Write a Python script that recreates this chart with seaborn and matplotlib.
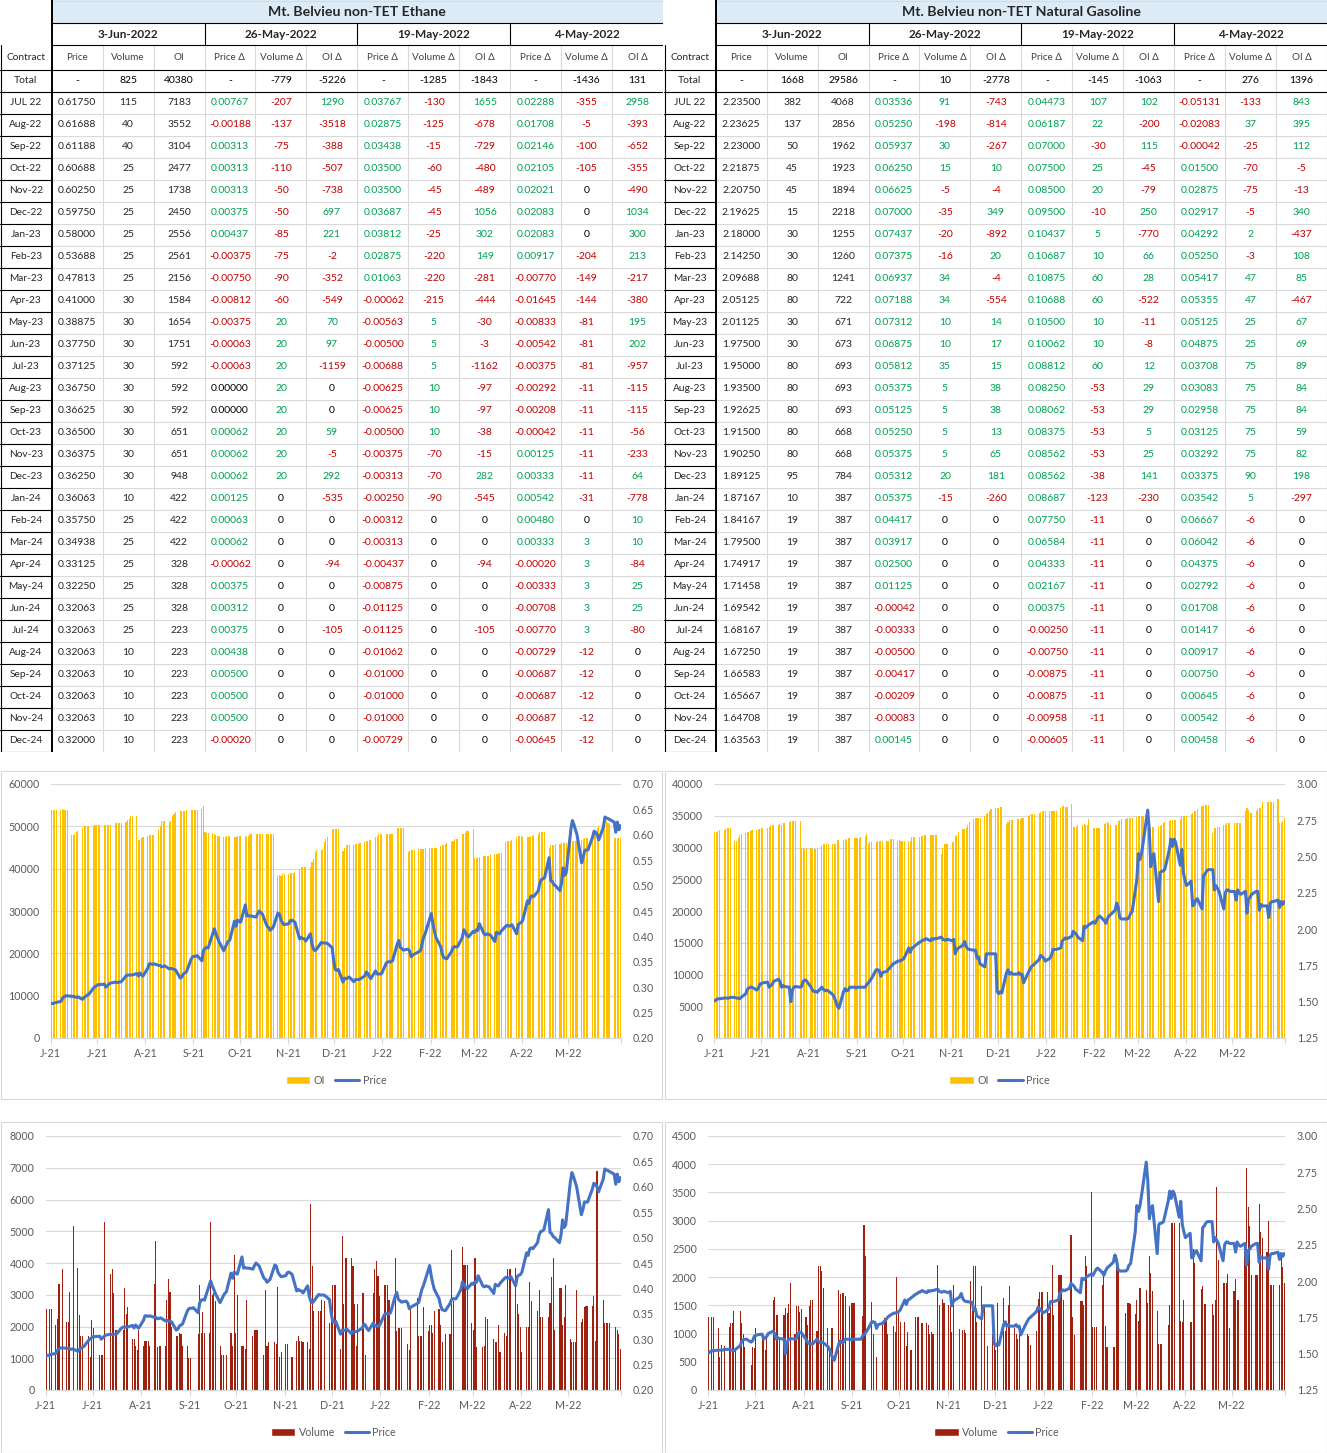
import numpy as np
import pandas as pd
import matplotlib
matplotlib.use("Agg")
import matplotlib.pyplot as plt
import matplotlib.dates as mdates
from matplotlib.patches import Rectangle, Patch
from matplotlib.lines import Line2D
import seaborn as sns

# ---------------- TABLE DATA ----------------
contracts = ["JUL 22", "Aug-22", "Sep-22", "Oct-22", "Nov-22", "Dec-22", "Jan-23", "Feb-23", "Mar-23", "Apr-23",
             "May-23", "Jun-23", "Jul-23", "Aug-23", "Sep-23", "Oct-23", "Nov-23", "Dec-23", "Jan-24", "Feb-24",
             "Mar-24", "Apr-24", "May-24", "Jun-24", "Jul-24", "Aug-24", "Sep-24", "Oct-24", "Nov-24", "Dec-24"]
report_dates = ["3-Jun-2022", "26-May-2022", "19-May-2022", "4-May-2022"]
col_headers = ["Price", "Volume", "OI", "Price \u0394", "Volume \u0394", "OI \u0394",
               "Price \u0394", "Volume \u0394", "OI \u0394", "Price \u0394", "Volume \u0394", "OI \u0394"]

eth_price = [0.61750, 0.61688, 0.61188, 0.60688, 0.60250, 0.59750, 0.58000, 0.53688, 0.47813, 0.41000,
             0.38875, 0.37750, 0.37125, 0.36750, 0.36625, 0.36500, 0.36375, 0.36250, 0.36063, 0.35750,
             0.34938, 0.33125, 0.32250, 0.32063, 0.32063, 0.32063, 0.32063, 0.32063, 0.32063, 0.32000]
eth_volume = [115, 40, 40, 25, 25, 25, 25, 25, 25, 30, 30, 30, 30, 30, 30, 30, 30, 30, 10, 25,
              25, 25, 25, 25, 25, 10, 10, 10, 10, 10]
eth_oi = [7183, 3552, 3104, 2477, 1738, 2450, 2556, 2561, 2156, 1584, 1654, 1751, 592, 592, 592, 651, 651, 948,
          422, 422, 422, 328, 328, 328, 223, 223, 223, 223, 223, 223]
eth_dp1 = [0.00767, -0.00188, 0.00313, 0.00313, 0.00313, 0.00375, 0.00437, -0.00375, -0.00750, -0.00812,
           -0.00375, -0.00063, -0.00063, 0.00000, 0.00000, 0.00062, 0.00062, 0.00062, 0.00125, 0.00063,
           0.00062, -0.00062, 0.00375, 0.00312, 0.00375, 0.00438, 0.00500, 0.00500, 0.00500, -0.00020]
eth_dv1 = [-207, -137, -75, -110, -50, -50, -85, -75, -90, -60, 20, 20, 20, 20, 20, 20, 20, 20,
           0, 0, 0, 0, 0, 0, 0, 0, 0, 0, 0, 0]
eth_doi1 = [1290, -3518, -388, -507, -738, 697, 221, -2, -352, -549, 70, 97, -1159, 0, 0, 59, -5, 292, -535,
            0, 0, -94, 0, 0, -105, 0, 0, 0, 0, 0]
eth_dp2 = [0.03767, 0.02875, 0.03438, 0.03500, 0.03500, 0.03687, 0.03812, 0.02875, 0.01063, -0.00062,
           -0.00563, -0.00500, -0.00688, -0.00625, -0.00625, -0.00500, -0.00375, -0.00313, -0.00250, -0.00312,
           -0.00313, -0.00437, -0.00875, -0.01125, -0.01125, -0.01062, -0.01000, -0.01000, -0.01000, -0.00729]
eth_dv2 = [-130, -125, -15, -60, -45, -45, -25, -220, -220, -215, 5, 5, 5, 10, 10, 10, -70, -70, -90,
           0, 0, 0, 0, 0, 0, 0, 0, 0, 0, 0]
eth_doi2 = [1655, -678, -729, -480, -489, 1056, 302, 149, -281, -444, -30, -3, -1162, -97, -97, -38, -15, 282,
            -545, 0, 0, -94, 0, 0, -105, 0, 0, 0, 0, 0]
eth_dp3 = [0.02288, 0.01708, 0.02146, 0.02105, 0.02021, 0.02083, 0.02083, 0.00917, -0.00770, -0.01645,
           -0.00833, -0.00542, -0.00375, -0.00292, -0.00208, -0.00042, 0.00125, 0.00333, 0.00542, 0.00480,
           0.00333, -0.00020, -0.00333, -0.00708, -0.00770, -0.00729, -0.00687, -0.00687, -0.00687, -0.00645]
eth_dv3 = [-355, -5, -100, -105, 0, 0, 0, -204, -149, -144, -81, -81, -81, -11, -11, -11, -11, -11, -31,
           0, 3, 3, 3, 3, 3, -12, -12, -12, -12, -12]
eth_doi3 = [2958, -393, -652, -355, -490, 1034, 300, 213, -217, -380, 195, 202, -957, -115, -115, -56, -233, 64,
            -778, 10, 10, -84, 25, 25, -80, 0, 0, 0, 0, 0]
eth_totals = ["-", 825, 40380, "-", -779, -5226, "-", -1285, -1843, "-", -1436, 131]

ng_price = [2.23500, 2.23625, 2.23000, 2.21875, 2.20750, 2.19625, 2.18000, 2.14250, 2.09688, 2.05125,
            2.01125, 1.97500, 1.95000, 1.93500, 1.92625, 1.91500, 1.90250, 1.89125, 1.87167, 1.84167,
            1.79500, 1.74917, 1.71458, 1.69542, 1.68167, 1.67250, 1.66583, 1.65667, 1.64708, 1.63563]
ng_volume = [382, 137, 50, 45, 45, 15, 30, 30, 80, 80, 30, 30, 80, 80, 80, 80, 80, 95, 10,
             19, 19, 19, 19, 19, 19, 19, 19, 19, 19, 19]
ng_oi = [4068, 2856, 1962, 1923, 1894, 2218, 1255, 1260, 1241, 722, 671, 673, 693, 693, 693, 668, 668, 784,
         387, 387, 387, 387, 387, 387, 387, 387, 387, 387, 387, 387]
ng_dp1 = [0.03536, 0.05250, 0.05937, 0.06250, 0.06625, 0.07000, 0.07437, 0.07375, 0.06937, 0.07188,
          0.07312, 0.06875, 0.05812, 0.05375, 0.05125, 0.05250, 0.05375, 0.05312, 0.05375, 0.04417,
          0.03917, 0.02500, 0.01125, -0.00042, -0.00333, -0.00500, -0.00417, -0.00209, -0.00083, 0.00145]
ng_dv1 = [91, -198, 30, 15, -5, -35, -20, -16, 34, 34, 10, 10, 35, 5, 5, 5, 5, 20, -15,
          0, 0, 0, 0, 0, 0, 0, 0, 0, 0, 0]
ng_doi1 = [-743, -814, -267, 10, -4, 349, -892, 20, -4, -554, 14, 17, 15, 38, 38, 13, 65, 181, -260,
           0, 0, 0, 0, 0, 0, 0, 0, 0, 0, 0]
ng_dp2 = [0.04473, 0.06187, 0.07000, 0.07500, 0.08500, 0.09500, 0.10437, 0.10687, 0.10875, 0.10688,
          0.10500, 0.10062, 0.08812, 0.08250, 0.08062, 0.08375, 0.08562, 0.08562, 0.08687, 0.07750,
          0.06584, 0.04333, 0.02167, 0.00375, -0.00250, -0.00750, -0.00875, -0.00875, -0.00958, -0.00605]
ng_dv2 = [107, 22, -30, 25, 20, -10, 5, 10, 60, 60, 10, 10, 60, -53, -53, -53, -53, -38, -123,
          -11, -11, -11, -11, -11, -11, -11, -11, -11, -11, -11]
ng_doi2 = [102, -200, 115, -45, -79, 250, -770, 66, 28, -522, -11, -8, 12, 29, 29, 5, 25, 141, -230,
           0, 0, 0, 0, 0, 0, 0, 0, 0, 0, 0]
ng_dp3 = [-0.05131, -0.02083, -0.00042, 0.01500, 0.02875, 0.02917, 0.04292, 0.05250, 0.05417, 0.05355,
          0.05125, 0.04875, 0.03708, 0.03083, 0.02958, 0.03125, 0.03292, 0.03375, 0.03542, 0.06667,
          0.06042, 0.04375, 0.02792, 0.01708, 0.01417, 0.00917, 0.00750, 0.00645, 0.00542, 0.00458]
ng_dv3 = [-133, 37, -25, -70, -75, -5, 2, -3, 47, 47, 25, 25, 75, 75, 75, 75, 75, 90, 5,
          -6, -6, -6, -6, -6, -6, -6, -6, -6, -6, -6]
ng_doi3 = [843, 395, 112, -5, -13, 340, -437, 108, 85, -467, 67, 69, 89, 84, 84, 59, 82, 198, -297,
           0, 0, 0, 0, 0, 0, 0, 0, 0, 0, 0]
ng_totals = ["-", 1668, 29586, "-", 10, -2778, "-", -145, -1063, "-", 276, 1396]

# ---------------- DAILY CHART DATA (business days 1-Jun-2021 .. 3-Jun-2022) ----------------
eth_oi_daily = [
    53800, 53800, 53900, 53800, 53900, 54000, 53900, 53900, 53900, 48000, 48000, 48200, 48600, 49000,
    49500, 50000, 50000, 50000, 50000, 50100, 50300, 50300,
    50200, 50200, 50300, 50300, 50300, 50200, 50200, 50800, 50800, 50800, 50800, 50900,
    51000, 51500, 51800, 52500, 52500, 52500, 46700, 46800, 47200, 47500,
    47800, 48000, 48000, 48000, 48000, 49200, 50000, 51300, 51300, 51200, 51000, 51300, 52500, 53000, 53500,
    53600, 53700, 53700, 53700, 53800, 53800, 53800,
    53800, 53800, 53800, 54000, 54700, 48600, 48500, 48500, 48500, 48300, 48000, 47600, 47600,
    47500, 47500, 47700, 47700, 47700, 47400, 47500, 47600, 47600,
    47600, 47600, 47500, 47600, 48200, 48200, 48200, 48200, 48200, 48200, 48200,
    48200, 48200, 48200, 48100, 48200, 38200, 38500, 38300, 38700, 38800,
    38800, 38900, 39000, 39000, 39200, 40000, 40300, 40500, 40500, 40500, 40500, 41500, 42400, 44000, 44500,
    44500, 44500, 46300, 47000, 47500, 49300, 49300,
    49300, 49300, 49400, 44200, 45000, 45600, 45600, 45600, 45700, 45800, 45800, 45900, 46000,
    46300, 46600, 46600, 46700, 46700, 47500, 47800, 48200, 48200, 48200,
    48200, 48200, 48300, 48200, 48300, 49600, 49700, 49700, 49700, 49700, 44000, 44200, 44300, 44500, 44500,
    44600, 44600, 44700, 44700, 44800, 44800,
    44800, 44800, 44800, 45000, 45300, 45500, 45700, 45900, 46000, 46200, 46500, 47000, 47000, 47000,
    48300, 48300, 48500, 48900, 49000, 49400,
    42500, 42600, 42600, 42700, 42900, 43000, 43000, 43100, 43300, 43500, 43500, 43500, 43700, 43800,
    46400, 46500, 46600, 46600, 46700, 47500, 47700, 47600, 47600,
    47500, 47500, 47500, 47600, 47700, 48000, 48300, 48600, 48700, 48700, 48700,
    45000, 45500, 45600, 45700, 45800, 45900, 46000, 46000, 46100, 46100,
    46200, 46500, 46600, 46600, 46600, 46700, 47000, 47200, 47300, 47300, 48000, 48500, 49000, 49500, 50000,
    51300, 51300, 51200, 50800, 50500, 47300, 47300,
    47300, 47300, 47300]

eth_price_daily = [
    0.268, 0.268, 0.269, 0.270, 0.272, 0.278, 0.281, 0.283, 0.283, 0.282, 0.282, 0.281, 0.280, 0.281,
    0.276, 0.280, 0.282, 0.284, 0.286, 0.298, 0.301, 0.303,
    0.305, 0.305, 0.306, 0.300, 0.303, 0.306, 0.308, 0.310, 0.309, 0.310, 0.310, 0.311,
    0.322, 0.324, 0.324, 0.324, 0.324, 0.327, 0.322, 0.328, 0.324, 0.322,
    0.337, 0.346, 0.346, 0.345, 0.346, 0.343, 0.343, 0.340, 0.341, 0.342, 0.336, 0.337, 0.336, 0.335, 0.334,
    0.318, 0.320, 0.326, 0.328, 0.330, 0.355, 0.360,
    0.361, 0.361, 0.362, 0.352, 0.372, 0.377, 0.378, 0.377, 0.405, 0.415, 0.405, 0.398, 0.390,
    0.372, 0.378, 0.385, 0.390, 0.393, 0.430, 0.420, 0.432, 0.430,
    0.428, 0.462, 0.440, 0.441, 0.440, 0.440, 0.438, 0.445, 0.450, 0.447, 0.444,
    0.420, 0.418, 0.412, 0.415, 0.418, 0.446, 0.444, 0.432, 0.427, 0.423,
    0.425, 0.431, 0.432, 0.430, 0.428, 0.395, 0.398, 0.396, 0.395, 0.391, 0.405, 0.385, 0.375, 0.372, 0.375,
    0.388, 0.387, 0.387, 0.387, 0.386, 0.378, 0.352,
    0.335, 0.333, 0.335, 0.310, 0.318, 0.317, 0.318, 0.320, 0.311, 0.315, 0.315, 0.315, 0.316,
    0.322, 0.330, 0.327, 0.321, 0.317, 0.332, 0.326, 0.326, 0.326, 0.327,
    0.348, 0.350, 0.350, 0.350, 0.352, 0.385, 0.392, 0.378, 0.376, 0.373, 0.375, 0.371, 0.360, 0.363, 0.365,
    0.370, 0.372, 0.385, 0.398, 0.405, 0.435,
    0.445, 0.425, 0.410, 0.398, 0.380, 0.366, 0.358, 0.357, 0.356, 0.370, 0.378, 0.380, 0.379, 0.380,
    0.398, 0.413, 0.408, 0.402, 0.399, 0.410,
    0.408, 0.413, 0.412, 0.425, 0.405, 0.403, 0.405, 0.404, 0.403, 0.390, 0.408, 0.406, 0.405, 0.410,
    0.420, 0.422, 0.420, 0.421, 0.423, 0.405, 0.423, 0.426, 0.427,
    0.432, 0.470, 0.465, 0.478, 0.480, 0.478, 0.490, 0.505, 0.512, 0.513, 0.515,
    0.555, 0.510, 0.508, 0.502, 0.500, 0.490, 0.505, 0.535, 0.520, 0.525,
    0.610, 0.628, 0.620, 0.610, 0.600, 0.545, 0.555, 0.570, 0.570, 0.570, 0.595, 0.607, 0.605, 0.600, 0.590,
    0.615, 0.635, 0.633, 0.632, 0.630, 0.625, 0.605,
    0.625, 0.610, 0.618]

eth_vol_daily = [
    2550, 0, 2550, 2550, 2050, 2250, 3350, 0, 3800, 2150, 2150, 3100, 0, 5150,
    3850, 2350, 1700, 1700, 0, 1700, 1050, 2200,
    1950, 0, 1100, 1100, 1100, 5300, 0, 3650, 3800, 3050, 1900, 1900,
    0, 1900, 3200, 2400, 2600, 1600, 1600, 1400, 1250, 1900,
    1400, 1550, 1550, 1550, 1400, 3350, 4700, 1350, 1400, 1400, 1400, 2850, 3500, 3100, 2000,
    1700, 1700, 1800, 1750, 1400, 1400, 1000,
    1000, 0, 0, 1750, 3300, 1800, 2450, 1800, 1800, 5300, 3000, 3050, 2800,
    1400, 1100, 1100, 0, 1100, 1800, 1400, 4250, 1800,
    3000, 1400, 1400, 1300, 2850, 0, 1700, 1900, 1900, 1900, 0,
    1100, 3150, 1400, 1500, 0, 1500, 1450, 3250, 1050, 1200,
    1450, 1450, 0, 0, 1050, 1550, 1700, 1550, 1550, 1500, 1500, 1300, 5850, 3900, 2500,
    2500, 2500, 2850, 0, 2800, 2100, 2250,
    3300, 3300, 3300, 1300, 4850, 2700, 4150, 4150, 4150, 3900, 2700, 1400, 2700,
    3050, 3050, 1100, 0, 0, 3050, 3800, 4050, 3600, 2950,
    3300, 3300, 3300, 2850, 0, 4150, 1850, 1950, 1950, 1950, 0, 1450, 1250, 2600, 0,
    2900, 1700, 1700, 1700, 2600, 1850,
    2050, 2050, 1800, 2500, 2550, 2050, 1500, 0, 1750, 1750, 4400, 2800, 0, 0,
    0, 4500, 3950, 3950, 3950, 2100,
    1900, 4150, 1350, 0, 1350, 1400, 2300, 2250, 0, 1600, 1500, 1500, 2050, 1200,
    1800, 1700, 3800, 3800, 3800, 3850, 2700, 2400, 2000,
    1200, 2000, 2000, 3400, 2800, 0, 2500, 3150, 2300, 2300, 0,
    2300, 2750, 3550, 4150, 1900, 3200, 3200, 2050, 2300, 3300,
    1600, 1500, 1500, 1500, 3150, 2150, 2250, 2600, 2650, 2650, 2650, 2950, 1550, 6900, 0,
    2850, 2100, 2100, 2100, 2100, 0, 2000,
    1900, 1750, 1300]

ng_oi_daily = [
    32500, 32500, 32600, 32700, 32800, 32900, 33000, 33000, 33000, 31000, 31000, 31500, 32000, 32200,
    32300, 32400, 32500, 32600, 32700, 32800, 32900, 32900,
    33000, 33000, 33100, 33200, 33500, 33500, 33600, 33600, 33700, 33600, 33800, 33900,
    34000, 34100, 34100, 34100, 34100, 34100, 29900, 29900, 29800, 29900,
    29900, 29800, 29700, 29800, 29700, 30200, 30600, 30600, 30600, 30600, 30600, 30600, 30600, 31200, 31200,
    31200, 31300, 31200, 31500, 31500, 31500, 31500,
    31500, 31500, 31600, 31800, 32200, 30500, 30800, 30900, 30900, 31000, 31000, 31100, 31100,
    31000, 31000, 31300, 31300, 31300, 31100, 31200, 31100, 31100,
    31100, 31100, 31100, 31600, 31600, 31700, 31700, 31800, 31800, 31900, 31900,
    31900, 31900, 31900, 31900, 31900, 29000, 30000, 30500, 30500, 30600,
    30800, 30800, 31800, 32000, 32500, 32900, 32900, 33000, 33500, 34000, 34500, 34700, 34700, 34700, 34700,
    35000, 35200, 35500, 35700, 36000, 36200, 36200,
    36200, 36300, 36300, 33700, 34000, 34300, 34400, 34400, 34500, 34500, 34500, 34600, 34700,
    35000, 35100, 35200, 35300, 35300, 35500, 35600, 35700, 35700, 35800,
    35700, 35700, 35800, 35800, 35800, 36200, 36500, 36600, 36400, 36300, 36900, 33200, 33300, 33200, 33500,
    33500, 33700, 33600, 33600, 34500, 33000,
    33000, 33000, 33000, 33000, 33700, 33900, 34000, 33900, 33500, 33500, 33500, 34200, 34400, 34500,
    34500, 34600, 34600, 34600, 34700, 34800,
    35000, 35000, 35000, 35000, 33200, 33200, 33200, 33300, 33300, 33400, 33400, 33600, 33800, 34000,
    34200, 34300, 34300, 34300, 34300, 34500, 35000, 35000, 35000,
    35000, 35200, 35500, 35700, 35700, 36000, 36500, 36600, 36700, 36700, 36700,
    32300, 33000, 33000, 33200, 33200, 33500, 33500, 33900, 33900, 33800,
    33900, 33900, 33800, 33800, 33800, 35700, 36200, 35900, 35500, 35500, 35800, 36000, 36200, 36200, 37200,
    37200, 37200, 37200, 37200, 37200, 37700, 33800,
    33800, 34200, 34700]

ng_price_daily = [
    1.505, 1.515, 1.520, 1.520, 1.525, 1.525, 1.525, 1.525, 1.530, 1.530, 1.525, 1.525, 1.520, 1.530,
    1.555, 1.585, 1.595, 1.600, 1.600, 1.580, 1.590, 1.620,
    1.625, 1.630, 1.635, 1.600, 1.610, 1.620, 1.640, 1.655, 1.640, 1.600, 1.610, 1.605,
    1.600, 1.500, 1.580, 1.600, 1.605, 1.600, 1.605, 1.640, 1.650, 1.645,
    1.600, 1.580, 1.570, 1.570, 1.565, 1.600, 1.585, 1.575, 1.580, 1.575, 1.550, 1.530, 1.500, 1.470, 1.455,
    1.570, 1.590, 1.575, 1.580, 1.600, 1.600, 1.595,
    1.600, 1.600, 1.600, 1.600, 1.620, 1.630, 1.645, 1.660, 1.720, 1.720, 1.715, 1.675, 1.700,
    1.710, 1.725, 1.735, 1.750, 1.760, 1.780, 1.780, 1.785, 1.790,
    1.800, 1.870, 1.840, 1.870, 1.875, 1.885, 1.910, 1.915, 1.925, 1.925, 1.935,
    1.920, 1.935, 1.930, 1.935, 1.935, 1.945, 1.930, 1.925, 1.925, 1.930,
    1.920, 1.930, 1.830, 1.860, 1.870, 1.890, 1.915, 1.880, 1.865, 1.860, 1.855, 1.855, 1.800, 1.810, 1.760,
    1.740, 1.830, 1.830, 1.830, 1.830, 1.830, 1.570,
    1.555, 1.570, 1.560, 1.700, 1.720, 1.690, 1.700, 1.690, 1.690, 1.700, 1.685, 1.690, 1.630,
    1.700, 1.720, 1.740, 1.750, 1.760, 1.790, 1.820, 1.810, 1.800, 1.780,
    1.800, 1.820, 1.860, 1.860, 1.860, 1.870, 1.920, 1.930, 1.940, 1.935, 1.950, 1.985, 1.975, 1.965, 1.945,
    1.920, 2.020, 2.010, 2.020, 2.030, 2.050,
    2.040, 2.060, 2.080, 2.090, 2.060, 2.040, 2.070, 2.090, 2.100, 2.130, 2.180, 2.150, 2.080, 2.070,
    2.070, 2.070, 2.080, 2.110, 2.120, 2.340,
    2.520, 2.480, 2.520, 2.590, 2.820, 2.690, 2.430, 2.500, 2.520, 2.190, 2.390, 2.400, 2.400, 2.410,
    2.550, 2.620, 2.570, 2.620, 2.600, 2.440, 2.550, 2.390, 2.340,
    2.300, 2.330, 2.160, 2.170, 2.200, 2.210, 2.140, 2.370, 2.380, 2.400, 2.410,
    2.410, 2.270, 2.300, 2.280, 2.260, 2.140, 2.250, 2.270, 2.270, 2.260,
    2.260, 2.200, 2.270, 2.250, 2.240, 2.260, 2.110, 2.210, 2.220, 2.240, 2.260, 2.260, 2.130, 2.170, 2.160,
    2.160, 2.080, 2.180, 2.190, 2.190, 2.200, 2.150,
    2.190, 2.170, 2.190]

ng_vol_daily = [
    1300, 0, 1300, 1300, 1100, 580, 800, 0, 780, 1120, 1190, 1190, 1400, 730,
    1400, 1190, 1000, 770, 0, 450, 770, 750,
    1100, 0, 960, 960, 700, 1000, 0, 1600, 1640, 1330, 1330, 930,
    1330, 1450, 1370, 1520, 1890, 1000, 1490, 1490, 1390, 1440,
    1300, 1160, 1480, 1600, 1600, 1050, 2200, 2200, 2100, 1810, 1100, 750, 1100, 1100, 0,
    1780, 1700, 1720, 1720, 1660, 1490, 1550,
    1550, 1550, 0, 0, 1310, 2920, 2380, 0, 1560, 1000, 0, 590, 0,
    1200, 1270, 1270, 1000, 0, 1140, 1020, 2010, 1400,
    1210, 1210, 780, 1020, 0, 700, 1290, 1290, 1290, 0, 1190,
    1190, 1160, 1000, 1020, 1000, 2220, 1510, 0, 1610, 1540,
    1500, 1480, 1030, 1860, 0, 1080, 0, 1070, 1070, 1010, 1930, 1560, 2200, 2200, 1200,
    1850, 0, 1500, 0, 780, 1000, 1000,
    700, 1550, 0, 1630, 1050, 1220, 1500, 1850, 1100, 1000, 900, 1000, 0,
    0, 1000, 950, 800, 0, 1050, 1610, 1740, 1740, 1740,
    1740, 1360, 1550, 2220, 1320, 2030, 2030, 2030, 1600, 0, 0, 2740, 1300, 970, 0,
    1580, 1580, 1500, 2380, 2200, 3500,
    1120, 1120, 1120, 0, 1860, 2100, 1140, 770, 0, 770, 770, 2400, 2200, 0,
    0, 1370, 1550, 1550, 1530, 1350,
    1600, 1220, 1800, 0, 1780, 1550, 2380, 2070, 1760, 1400, 820, 820, 820, 0,
    1160, 1500, 2950, 2950, 2950, 2950, 1230, 1210, 1600,
    0, 1200, 1200, 2500, 2250, 0, 1790, 1850, 1520, 1520, 0,
    1530, 1330, 1600, 3600, 2300, 1900, 1900, 1900, 2060, 1100,
    1760, 1960, 1600, 1600, 0, 2560, 3940, 3250, 2900, 2040, 2030, 2040, 3300, 2800, 2700,
    2450, 3000, 1860, 1860, 1860, 0, 1860,
    2450, 2180, 1890]

month_labels = ["J-21", "J-21", "A-21", "S-21", "O-21", "N-21", "D-21", "J-22", "F-22", "M-22", "A-22", "M-22"]

# ---------------- STYLE ----------------
sns.set_theme(style="white")
plt.rcParams["font.family"] = ["Lato", "DejaVu Sans"]
GREEN = "#00A050"
RED = "#C00000"
GRID = "#D9D9D9"
TXT = "#595959"
BLUE = "#4472C4"
FS = 7.5

W, H = 1327, 1453
fig = plt.figure(figsize=(W / 100, H / 100), dpi=100)
fig.patch.set_facecolor("white")


def add_ax(x0, y0, x1, y1):
    return fig.add_axes([x0 / W, 1 - y1 / H, (x1 - x0) / W, (y1 - y0) / H])


def vcolor(v):
    if v > 0:
        return GREEN
    if v < 0:
        return RED
    return "black"


def draw_table(x_off, title, price, vol, oi, groups, totals):
    ax = add_ax(x_off, 0, x_off + 663, 752)
    ax.set_xlim(0, 663)
    ax.set_ylim(752, 0)
    ax.axis("off")
    c0 = 51.7
    cw = (663 - c0) / 12
    xs = [c0 + i * cw for i in range(13)]
    rh = 22.0
    y_tot = 69.7
    y_end = y_tot + rh * (len(contracts) + 1)
    ax.add_patch(Rectangle((c0, 0), 663 - c0, 22.7, facecolor="#DDEBF7", edgecolor="none"))
    ax.text((c0 + 663) / 2, 12, title, ha="center", va="center", fontsize=10.2, fontweight="bold")
    for g in range(4):
        ax.text(xs[3 * g] + 1.5 * cw, 34.5, report_dates[g], ha="center", va="center", fontsize=8.5,
                fontweight="bold")
    ax.text(c0 / 2, 58, "Contract", ha="center", va="center", fontsize=FS - 0.2)
    for i, h in enumerate(col_headers):
        ax.text(xs[i] + cw / 2, 58, h, ha="center", va="center", fontsize=FS - 0.4, color="#404040")
    for i in range(1, 13):
        ax.plot([xs[i], xs[i]], [45, y_end], color=GRID, lw=0.8, zorder=1)
    for g in (3, 6, 9):
        ax.plot([xs[g], xs[g]], [22.7, 45], color="black", lw=0.8, zorder=2)
    for k in range(len(contracts)):
        yy = y_tot + rh * (k + 2)
        if k < len(contracts) - 1:
            ax.plot([c0, 663], [yy, yy], color=GRID, lw=0.8, zorder=1)
        ax.plot([0, c0], [yy, yy], color="black", lw=0.8, zorder=2)
    ax.plot([c0, 663], [0.5, 0.5], color=GRID, lw=0.8)
    ax.plot([c0, 663], [22.7, 22.7], color="black", lw=0.8, zorder=2)
    ax.plot([c0, 663], [45, 45], color="black", lw=0.8, zorder=2)
    ax.plot([0, 663], [y_tot, y_tot], color="black", lw=0.8, zorder=2)
    ax.plot([0, 663], [y_tot + rh, y_tot + rh], color="black", lw=0.8, zorder=2)
    ax.plot([c0, c0], [0, y_end], color="black", lw=1.4, zorder=3)
    ax.plot([0.6, 0.6], [45, y_end], color="black", lw=0.8, zorder=3)
    yc = y_tot + rh / 2
    ax.text(c0 / 2, yc, "Total", ha="center", va="center", fontsize=FS)
    for i, v in enumerate(totals):
        ax.text(xs[i] + cw / 2, yc, str(v), ha="center", va="center", fontsize=FS, color="black")
    for r, name in enumerate(contracts):
        yc = y_tot + rh * (r + 1) + rh / 2
        ax.text(c0 / 2, yc, name, ha="center", va="center", fontsize=FS - 0.2)
        ax.text(xs[0] + cw / 2, yc, f"{price[r]:.5f}", ha="center", va="center", fontsize=FS)
        ax.text(xs[1] + cw / 2, yc, f"{vol[r]}", ha="center", va="center", fontsize=FS)
        ax.text(xs[2] + cw / 2, yc, f"{oi[r]}", ha="center", va="center", fontsize=FS)
        for g, (dp, dv, doi) in enumerate(groups):
            base = 3 + 3 * g
            ax.text(xs[base] + cw / 2, yc, f"{dp[r]:.5f}", ha="center", va="center", fontsize=FS,
                    color=vcolor(round(dp[r], 6)))
            ax.text(xs[base + 1] + cw / 2, yc, f"{dv[r]}", ha="center", va="center", fontsize=FS,
                    color=vcolor(dv[r]))
            ax.text(xs[base + 2] + cw / 2, yc, f"{doi[r]}", ha="center", va="center", fontsize=FS,
                    color=vcolor(doi[r]))


draw_table(0, "Mt. Belvieu non-TET Ethane", eth_price, eth_volume, eth_oi,
           [(eth_dp1, eth_dv1, eth_doi1), (eth_dp2, eth_dv2, eth_doi2), (eth_dp3, eth_dv3, eth_doi3)], eth_totals)
draw_table(664, "Mt. Belvieu non-TET Natural Gasoline", ng_price, ng_volume, ng_oi,
           [(ng_dp1, ng_dv1, ng_doi1), (ng_dp2, ng_dv2, ng_doi2), (ng_dp3, ng_dv3, ng_doi3)], ng_totals)

# ---------------- CHARTS ----------------
dates = pd.bdate_range("2021-06-01", "2022-06-03")
xnum_all = mdates.date2num(dates.to_pydatetime()) + 0.5
X0 = mdates.date2num(pd.Timestamp("2021-06-01").to_pydatetime())
X1 = mdates.date2num(pd.Timestamp("2022-06-04").to_pydatetime())
tick_nums = [mdates.date2num(d.to_pydatetime()) for d in pd.date_range("2021-06-01", "2022-05-01", freq="MS")]
tick_nums.append(X1)
tick_labels = month_labels + [""]


def draw_chart(box, plot, bars, bcolor, blabel, price, lmax, lstep, rmin, rmax, rstep, legend_y):
    bx0, by0, bx1, by1 = box
    fig.patches.append(Rectangle((bx0 / W, 1 - by1 / H), (bx1 - bx0) / W, (by1 - by0) / H,
                                 transform=fig.transFigure, fill=False, edgecolor=GRID, lw=0.8))
    n = min(len(xnum_all), len(bars), len(price))
    x = xnum_all[:n]
    ax = add_ax(*plot)
    ax.bar(x, bars[:n], width=0.7, color=bcolor, linewidth=0, zorder=2)
    ax.set_xlim(X0, X1)
    ax.set_ylim(0, lmax)
    ax.set_yticks(np.arange(0, lmax + 1, lstep))
    ax.set_yticklabels([f"{int(v)}" for v in np.arange(0, lmax + 1, lstep)])
    ax.yaxis.grid(True, color=GRID, lw=0.8)
    ax.xaxis.grid(False)
    ax.set_axisbelow(True)
    for s in ["top", "left", "right"]:
        ax.spines[s].set_visible(False)
    ax.spines["bottom"].set_color(GRID)
    ax.spines["bottom"].set_linewidth(0.8)
    ax.tick_params(axis="y", length=0, pad=8, labelsize=7.7, labelcolor=TXT)
    ax.set_xticks(tick_nums)
    ax.set_xticklabels(tick_labels)
    ax.tick_params(axis="x", length=4, width=0.8, color=GRID, direction="out", bottom=True, pad=3,
                   labelsize=7.7, labelcolor=TXT)
    ax2 = ax.twinx()
    sns.lineplot(x=x, y=price[:n], ax=ax2, color=BLUE, linewidth=2.2)
    ax2.set_xlim(X0, X1)
    ax2.set_ylim(rmin, rmax)
    rt = np.arange(rmin, rmax + 1e-9, rstep)
    ax2.set_yticks(rt)
    ax2.set_yticklabels([f"{v:.2f}" for v in rt])
    for s in ax2.spines.values():
        s.set_visible(False)
    ax2.grid(False)
    ax2.tick_params(axis="y", length=0, pad=8.5, labelsize=7.7, labelcolor=TXT)
    ax2.set_xlabel("")
    ax2.set_ylabel("")
    ax.set_xlabel("")
    ax.set_ylabel("")
    handles = [Patch(facecolor=bcolor, label=blabel), Line2D([], [], color=BLUE, lw=2.2, label="Price")]
    cx = (plot[0] + plot[2]) / 2 / W
    ax2.legend(handles=handles, loc="center", bbox_to_anchor=(cx, 1 - legend_y / H),
               bbox_transform=fig.transFigure, ncol=2, frameon=False, fontsize=7.7, handlelength=2.3,
               handleheight=0.7, handletextpad=0.3, columnspacing=0.9, labelcolor=TXT)


draw_chart((0.5, 770.5, 661.5, 1098.5), (50.8, 784, 621.2, 1038), eth_oi_daily, "#FFC000", "OI",
           eth_price_daily, 60000, 10000, 0.20, 0.70, 0.05, 1080)
draw_chart((664.5, 770.5, 1326.5, 1098.5), (714, 784, 1285, 1038), ng_oi_daily, "#FFC000", "OI",
           ng_price_daily, 40000, 5000, 1.25, 3.00, 0.25, 1080)
draw_chart((0.5, 1122, 661.5, 1452.5), (45.7, 1136, 621.2, 1390), eth_vol_daily, "#A0200F", "Volume",
           eth_price_daily, 8000, 1000, 0.20, 0.70, 0.05, 1432)
draw_chart((664.5, 1122, 1326.5, 1452.5), (708, 1136, 1285, 1390), ng_vol_daily, "#A0200F", "Volume",
           ng_price_daily, 4500, 500, 1.25, 3.00, 0.25, 1432)

fig.savefig("out.png", dpi=100, facecolor="white")
